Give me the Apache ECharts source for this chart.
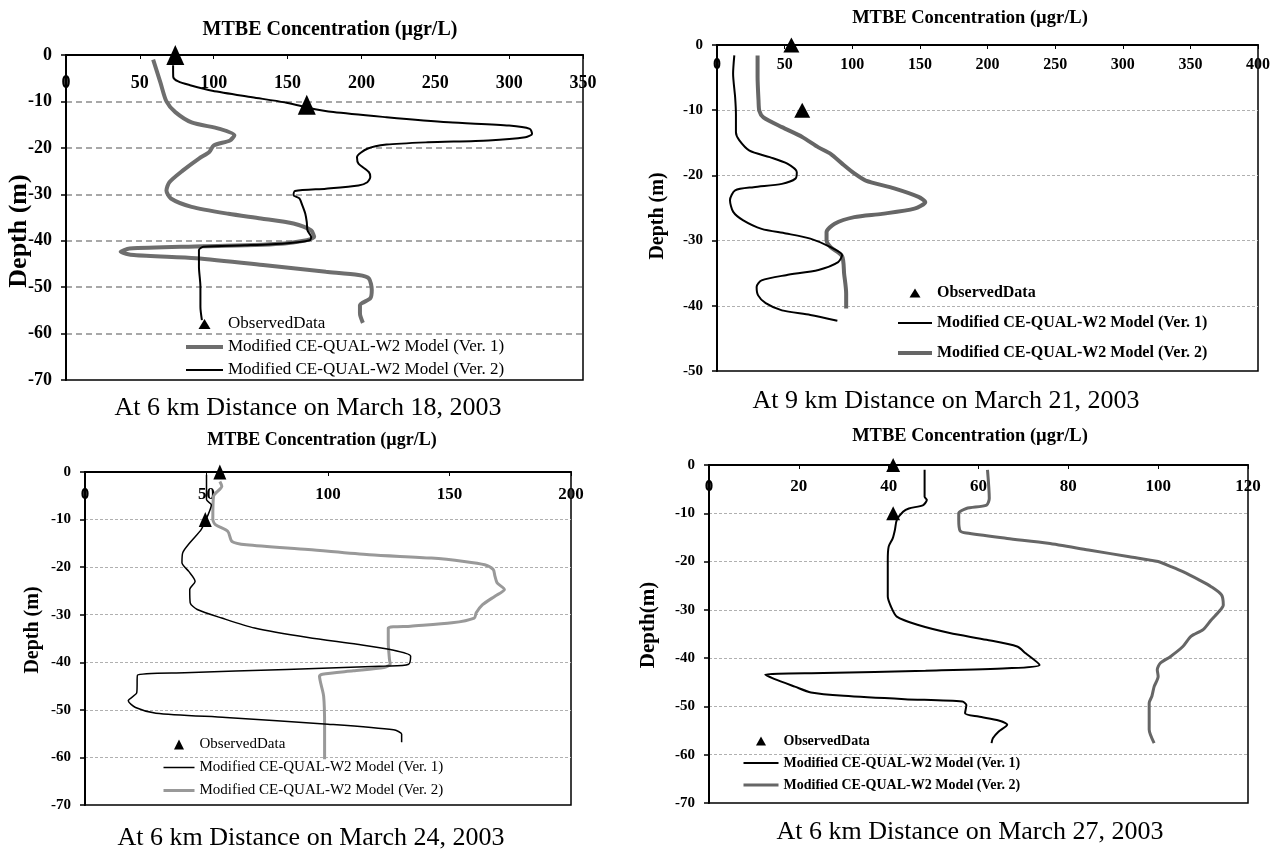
<!DOCTYPE html>
<html>
<head>
<meta charset="utf-8">
<script src="https://cdn.jsdelivr.net/npm/echarts@6/dist/echarts.min.js"></script>
<style>html,body{margin:0;padding:0;background:#fff}#c{width:1274px;height:850px}</style>
</head>
<body>
<div id="c"></div>
<script>
// ---------- DATA (MTBE concentration µgr/L, depth m) ----------
const NAME_OBS = 'ObservedData';
const NAME_V1 = 'Modified CE-QUAL-W2 Model (Ver. 1)';
const NAME_V2 = 'Modified CE-QUAL-W2 Model (Ver. 2)';

const titles = ['MTBE Concentration (µgr/L)', 'MTBE Concentration (µgr/L)', 'MTBE Concentration (µgr/L)', 'MTBE Concentration (µgr/L)'];
const captions = ['At 6 km Distance on March 18, 2003', 'At 9 km Distance on March 21, 2003', 'At 6 km Distance on March 24, 2003', 'At 6 km Distance on March 27, 2003'];
const yTitles = ['Depth (m)', 'Depth (m)', 'Depth (m)', 'Depth(m)'];
const xMax = [350, 400, 200, 120];
const xStep = [50, 50, 50, 20];
const yMin = [-70, -50, -70, -70];

// Panel 1 (March 18)
const p1Obs = [[74, 0], [163, -10.7]];
const p1Ver1 = [[59,-1],[64,-6],[68,-10],[74,-12.3],[85,-14.5],[104,-15.9],[114,-17.3],[111,-18.4],[100,-19.5],[97,-20.9],[90,-22.3],[79,-24.9],[70,-27.4],[68,-29.2],[71,-30.9],[85,-32.7],[110,-34.2],[132,-35.2],[154,-36.3],[166,-37.8],[168,-39.2],[148,-40.6],[93,-41.2],[43,-41.7],[37,-42.4],[46,-43.1],[88,-43.8],[135,-45.3],[176,-46.7],[198,-47.4],[205,-48.1],[207,-50.6],[206,-52.4],[199,-53.9],[199,-55.7],[201,-57.7]];
const p1Ver2 = [[72.5,-2.2],[72.6,-4.7],[76,-5.7],[84,-6.5],[99,-7.7],[126,-9.1],[148,-10.2],[163,-11.3],[181,-12.3],[217,-13.4],[259,-14.5],[300,-15.2],[314,-15.9],[315.5,-17],[311,-17.7],[286,-18.4],[245,-18.8],[217,-19.3],[204,-20.2],[197,-22],[198,-23.4],[205,-25.2],[206,-26.3],[204,-27.4],[198,-28.1],[176,-28.8],[155,-29.3],[154,-30.2],[158,-30.9],[160,-32.4],[162,-34.2],[163,-36],[163.5,-37.8],[166,-39.2],[165,-39.9],[148,-40.6],[121,-41],[93,-41.3],[90,-42],[90,-45.6],[91,-49.9],[91,-54.2],[92,-57.1]];

// Panel 2 (March 21)
const p2Obs = [[55, 0], [63, -10]];
const p2Ver1 = [[12.8,-1.6],[11.9,-4.4],[13.4,-8],[14,-10.6],[14,-13.4],[16.4,-14.6],[24,-16.2],[39,-17.2],[52,-18.2],[59,-19.5],[58,-20.5],[48,-21.3],[27,-21.8],[13.4,-22.3],[9.6,-23.8],[12,-25.6],[19.4,-26.9],[33,-28.2],[51,-28.9],[69,-29.7],[84,-31],[92.5,-32.2],[89.6,-33.3],[75,-34.5],[51,-35.3],[33,-36.1],[29.3,-37.1],[30.4,-38.4],[36,-39.6],[48,-40.7],[69,-41.4],[89,-42.3]];
const p2Ver2 = [[30,-1.6],[30,-4.9],[30.7,-8.5],[31.3,-10.1],[34.3,-11.1],[48,-12.6],[63,-14.1],[75,-15.7],[84,-16.7],[92.5,-18.2],[101.5,-19.7],[110,-20.8],[131,-22],[149,-23.3],[154,-24.1],[146,-25.1],[122,-25.9],[101.5,-26.4],[87,-27.4],[81,-28.7],[81,-29.9],[84,-31],[92.5,-32.4],[94,-35.1],[95.5,-38.1],[95.5,-40.4]];

// Panel 3 (March 24)
const p3Obs = [[55.5, 0], [49.5, -10]];
const p3Ver1 = [[50,-0.6],[50,-5.8],[52,-6.9],[50.4,-9.3],[47.8,-12.1],[43.6,-14.6],[40.2,-17],[39.9,-19.1],[42.7,-20.9],[45.3,-23],[43.1,-24.7],[43.3,-27.5],[46.2,-28.9],[56.3,-30.7],[69.8,-32.8],[91.8,-34.8],[112,-36.2],[125.6,-37.3],[134,-38.7],[133.2,-40.4],[124,-40.8],[83,-41.5],[41,-42.2],[21.6,-42.7],[21.3,-46.4],[17.8,-48.1],[20.8,-49.5],[29.2,-50.7],[58,-51.6],[100,-53],[127,-54.2],[130.3,-55.1],[130.3,-56.8]];
const p3Ver2 = [[55.5,-2],[56.3,-3],[52.9,-5.1],[52.6,-10],[53.8,-11.1],[58.8,-12.5],[60.5,-14.6],[66.4,-15.3],[91.8,-16.3],[117,-17.4],[142.5,-18.1],[156,-18.8],[164.5,-19.5],[168,-20.5],[168.7,-21.9],[169.6,-23.3],[172.6,-24.7],[168.7,-26.1],[163.6,-27.9],[161,-29.6],[160.2,-30.7],[151,-31.7],[134,-32.4],[124.8,-32.8],[124.8,-35.9],[125.3,-39.4],[125.6,-40.4],[123,-41.1],[110.4,-41.8],[97.7,-42.5],[96.5,-42.9],[98.2,-47.1],[98.6,-53.4],[98.6,-60.4]];

// Panel 4 (March 27)
const p4Obs = [[41, 0], [41, -10]];
const p4Ver1 = [[48,-1],[48,-6.6],[48.5,-7.2],[47.7,-8.3],[44.5,-9],[43.2,-9.7],[41.8,-11.4],[41.4,-13.4],[40.9,-15.2],[40,-16.9],[39.8,-19.7],[39.8,-23.1],[39.8,-27.2],[40.5,-29.3],[41.8,-31.4],[46.4,-33.1],[53.6,-34.8],[61.8,-36.2],[68.6,-37.6],[70.5,-39],[73.6,-41.4],[66.4,-42.1],[48.2,-42.6],[25.5,-43.1],[12.5,-43.4],[14.5,-44.3],[19.1,-45.9],[22.7,-47.1],[30,-47.8],[43.6,-48.5],[56.4,-49],[57.3,-49.7],[57,-51.4],[60,-52.1],[64.5,-52.9],[66.4,-53.8],[64.5,-55.2],[63.2,-56.6],[62.9,-57.6]];
const p4Ver2 = [[62,-1],[62.4,-6.9],[61.8,-8.3],[57.3,-9],[55.6,-10],[55.6,-11.4],[55.9,-13.6],[57.3,-14.1],[66.4,-15.2],[75.5,-16.2],[84.5,-17.6],[93.6,-19],[100,-20],[102.7,-21],[105.5,-22.1],[109.1,-23.8],[111.8,-25.2],[114.1,-26.9],[114.5,-29],[113.6,-30.3],[111.8,-32.1],[110,-34.1],[107.3,-35.5],[105.5,-37.6],[102.7,-39.7],[100.5,-41],[99.8,-42.4],[100,-43.8],[99.1,-45.9],[98.6,-47.9],[98,-49.3],[98,-52.1],[98,-54.8],[99.1,-57.6]];

const obsData = [p1Obs, p2Obs, p3Obs, p4Obs];
const ver1Data = [p1Ver1, p2Ver1, p3Ver1, p4Ver1];
const ver2Data = [p1Ver2, p2Ver2, p3Ver2, p4Ver2];

// ---------- LAYOUT / STYLE ----------
const FONT = '"Liberation Serif", "Times New Roman", serif';
const P = [
  { grid: [66, 55, 517, 325], xLabel: 18, xMargin: 28, yLabel: 18, title: [330, 30, 20], cap: [308, 408], yT: [19, 231, 26],
    split: { color: '#8c8c8c', width: 1.5, type: [6, 4] }, tri: [18, 20], v1Top: false,
    v1: { color: '#6e6e6e', width: 4 }, v2: { color: '#000', width: 2 },
    legend: { left: 184, top: 315, w: 37, fs: 17, lh: 18, gap: 5, bold: false, ih: 12, tw: 12, th: 10 } },
  { grid: [717, 45, 541, 326], xLabel: 16, xMargin: 20, yLabel: 15, title: [970, 18, 18.5], cap: [946, 401], yT: [658, 216, 20],
    split: { color: '#b0b0b0', width: 1, type: [3, 2] }, tri: [16, 15], v1Top: true,
    v1: { color: '#000', width: 2 }, v2: { color: '#666', width: 4 },
    legend: { left: 896, top: 284, w: 34, fs: 16, lh: 18, gap: 12, bold: true, ih: 11, tw: 11, th: 9 } },
  { grid: [85, 472, 486, 333], xLabel: 17, xMargin: 23, yLabel: 15, title: [322, 440, 18], cap: [311, 838], yT: [33, 630, 20],
    split: { color: '#b0b0b0', width: 1, type: [3, 2] }, tri: [13, 15], v1Top: true,
    v1: { color: '#000', width: 1.5 }, v2: { color: '#999', width: 3 },
    legend: { left: 162, top: 736, w: 31, fs: 15, lh: 17, gap: 6, bold: false, ih: 11, tw: 10, th: 10 } },
  { grid: [709, 465, 539, 338], xLabel: 17, xMargin: 22, yLabel: 15, title: [970, 436, 18.5], cap: [970, 832], yT: [649, 625, 21],
    split: { color: '#b0b0b0', width: 1, type: [3, 2] }, tri: [14, 14], v1Top: true,
    v1: { color: '#000', width: 2 }, v2: { color: '#666', width: 3 },
    legend: { left: 742, top: 733, w: 35, fs: 14, lh: 16, gap: 6, bold: true, ih: 10, tw: 10, th: 9 } }
];

// Triangle legend icon whose bounding box equals the legend item box (so it is not stretched).
function triIcon(L) {
  const cx = L.w / 2, top = (L.ih - L.th) / 2, bot = top + L.th;
  return 'path://M0,0 M' + L.w + ',' + L.ih + ' M' + cx + ',' + top + ' L' + (cx + L.tw / 2) + ',' + bot + ' L' + (cx - L.tw / 2) + ',' + bot + ' Z';
}

const grids = [], xAxes = [], yAxes = [], series = [], legends = [], graphics = [];
P.forEach((p, i) => {
  grids.push({ left: p.grid[0], top: p.grid[1], width: p.grid[2], height: p.grid[3], show: true,
    borderColor: '#000', borderWidth: 1.5, backgroundColor: 'transparent', containLabel: false });
  xAxes.push({ type: 'value', gridIndex: i, position: 'top', min: 0, max: xMax[i], interval: xStep[i],
    axisLine: { show: true, lineStyle: { color: '#000', width: 2 } },
    axisTick: { show: true, inside: true, length: 4, lineStyle: { color: '#000', width: 1 } },
    axisLabel: { inside: true, margin: p.xMargin, verticalAlign: 'middle', fontFamily: FONT, fontWeight: 'bold', fontSize: p.xLabel, color: '#000' },
    splitLine: { show: false } });
  yAxes.push({ type: 'value', gridIndex: i, min: yMin[i], max: 0, interval: 10,
    axisLine: { show: true, onZero: false, lineStyle: { color: '#000', width: 2 } },
    axisTick: { show: true, inside: false, length: 5, lineStyle: { color: '#000', width: 1.5 } },
    axisLabel: { margin: 14, fontFamily: FONT, fontWeight: 'bold', fontSize: p.yLabel, color: '#000' },
    splitLine: { show: true, showMinLine: false, showMaxLine: false, lineStyle: p.split } });
  series.push({ name: NAME_V1, type: 'line', xAxisIndex: i, yAxisIndex: i,
    data: ver1Data[i], symbol: 'none', smooth: 0.25, clip: false, z: p.v1Top ? 3 : 2,
    lineStyle: { color: p.v1.color, width: p.v1.width }, itemStyle: { color: p.v1.color } });
  series.push({ name: NAME_V2, type: 'line', xAxisIndex: i, yAxisIndex: i,
    data: ver2Data[i], symbol: 'none', smooth: 0.25, clip: false, z: p.v1Top ? 2 : 3,
    lineStyle: { color: p.v2.color, width: p.v2.width }, itemStyle: { color: p.v2.color } });
  series.push({ name: NAME_OBS, type: 'scatter', xAxisIndex: i, yAxisIndex: i, data: obsData[i],
    symbol: 'triangle', symbolSize: p.tri, clip: false, z: 4, itemStyle: { color: '#000', opacity: 1 } });
  const L = p.legend;
  legends.push({ orient: 'vertical', left: L.left, top: L.top, itemWidth: L.w, itemHeight: L.ih, itemGap: L.gap,
    padding: 0, selectedMode: false, symbolKeepAspect: true,
    textStyle: { fontFamily: FONT, fontSize: L.fs, lineHeight: L.lh, fontWeight: L.bold ? 'bold' : 'normal', color: '#000' },
    data: [
      { name: NAME_OBS, icon: triIcon(L), itemStyle: { color: '#000', opacity: 1 } },
      { name: NAME_V1, itemStyle: { color: p.v1.color, opacity: 0 }, lineStyle: { color: p.v1.color, width: p.v1.width, opacity: 1 } },
      { name: NAME_V2, itemStyle: { color: p.v2.color, opacity: 0 }, lineStyle: { color: p.v2.color, width: p.v2.width, opacity: 1 } }
    ] });
  graphics.push({ type: 'text', x: p.title[0], y: p.title[1], silent: true,
    style: { text: titles[i], fontFamily: FONT, fontWeight: 'bold', fontSize: p.title[2], fill: '#000', align: 'center', verticalAlign: 'middle' } });
  graphics.push({ type: 'text', x: p.cap[0], y: p.cap[1], silent: true,
    style: { text: captions[i], fontFamily: FONT, fontSize: 26, fill: '#000', align: 'center', verticalAlign: 'middle' } });
  graphics.push({ type: 'text', x: p.yT[0], y: p.yT[1], rotation: Math.PI / 2, silent: true,
    style: { text: yTitles[i], fontFamily: FONT, fontWeight: 'bold', fontSize: p.yT[2], fill: '#000', align: 'center', verticalAlign: 'middle' } });
});

const chart = echarts.init(document.getElementById('c'), null, { renderer: 'canvas' });
chart.setOption({
  backgroundColor: '#fff',
  animation: false,
  grid: grids, xAxis: xAxes, yAxis: yAxes, series: series, legend: legends,
  graphic: { elements: graphics }
});
</script>
</body>
</html>
